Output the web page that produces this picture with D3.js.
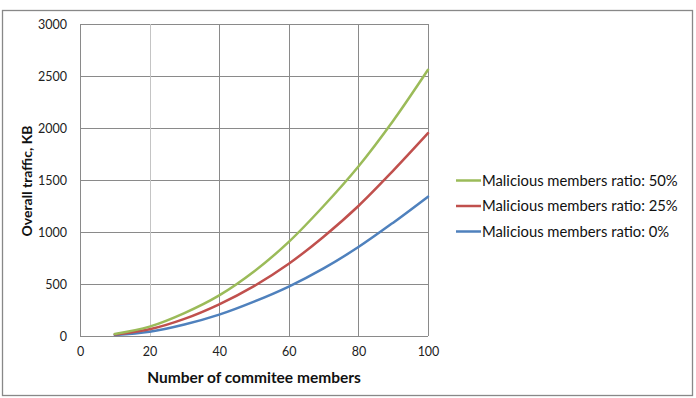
<!DOCTYPE html>
<html>
<head>
<meta charset="utf-8">
<script src="https://cdn.jsdelivr.net/npm/d3@7"></script>
<style>
  body { margin: 0; background: #fff; }
  svg { display: block; font-family: Lato, "Open Sans", sans-serif; }
</style>
</head>
<body>
<svg id="line_chart"></svg>
<script>
var members = [10, 20, 30, 40, 50, 60, 70, 80, 90, 100];
var ratio50 = [20, 90, 220, 390, 620, 905, 1250, 1630, 2070, 2560];
var ratio25 = [15, 65, 165, 305, 480, 695, 955, 1250, 1590, 1950];
var ratio0 = [10, 40, 110, 205, 330, 475, 650, 855, 1090, 1340];
var seriesNames = ["Malicious members ratio: 50%", "Malicious members ratio: 25%", "Malicious members ratio: 0%"];
var seriesColors = ["#9bbb59", "#c0504d", "#4f81bd"];
var xTicks = [0, 20, 40, 60, 80, 100];
var yTicks = [0, 500, 1000, 1500, 2000, 2500, 3000];

var width = 696;
var height = 398;

var xScale = d3.scaleLinear()
    .domain([0, 100])
    .range([80, 428]);
var yScale = d3.scaleLinear()
    .domain([0, 3000])
    .range([336, 24]);

var svg = d3.select("#line_chart")
    .attr('width', width)
    .attr('height', height);

// outer frame
svg.append('rect')
    .attr('x', 2.5).attr('y', 10.5)
    .attr('width', 690).attr('height', 385)
    .attr('fill', 'none')
    .attr('stroke', '#888')
    .attr('stroke-width', 1.3);

// grid
svg.append('g')
    .selectAll('line')
    .data(yTicks)
    .enter()
    .append('line')
    .attr('x1', xScale(0)).attr('x2', xScale(100))
    .attr('y1', function (d) { return Math.round(yScale(d)) + 0.5; })
    .attr('y2', function (d) { return Math.round(yScale(d)) + 0.5; })
    .attr('stroke', '#8a8a8a');
svg.append('g')
    .selectAll('line')
    .data(xTicks)
    .enter()
    .append('line')
    .attr('x1', function (d) { return Math.round(xScale(d)) + 0.5; })
    .attr('x2', function (d) { return Math.round(xScale(d)) + 0.5; })
    .attr('y1', yScale(3000)).attr('y2', yScale(0))
    .attr('stroke', function (d) { return d === 20 ? '#c4c4c4' : '#8a8a8a'; });

// axes (text only, lines drawn by grid)
var yAxis = d3.axisLeft(yScale).tickValues(yTicks).tickFormat(d3.format('d')).tickSize(0).tickPadding(13);
var gy = svg.append('g')
    .attr('transform', 'translate(' + xScale(0) + ',0)')
    .call(yAxis);
var xAxis = d3.axisBottom(xScale).tickValues(xTicks).tickFormat(d3.format('d')).tickSize(0).tickPadding(11);
var gx = svg.append('g')
    .attr('transform', 'translate(0,' + yScale(0) + ')')
    .call(xAxis);
[gx, gy].forEach(function (g) {
    g.select('.domain').remove();
    g.selectAll('text')
        .attr('font-family', 'Lato, sans-serif')
        .attr('font-size', 12.5)
        .attr('fill', '#222');
});

svg.append('text')
    .attr('transform', 'translate(32,181) rotate(-90)')
    .attr('text-anchor', 'middle')
    .attr('font-size', 14)
    .attr('font-weight', 'bold')
    .attr('fill', '#111')
    .text('Overall traffic, KB');

svg.append('text')
    .attr('x', 254).attr('y', 383)
    .attr('text-anchor', 'middle')
    .attr('font-size', 15.5)
    .attr('font-weight', 'bold')
    .attr('fill', '#111')
    .text('Number of commitee members');

var linePath = d3.line()
    .x(function (d) { return xScale(d[0]); })
    .y(function (d) { return yScale(d[1]); })
    .curve(d3.curveCatmullRom);

var allSeries = [ratio0, ratio25, ratio50];
var allColors = [seriesColors[2], seriesColors[1], seriesColors[0]];
allSeries.forEach(function (vals, i) {
    svg.append('path')
        .attr('d', linePath(members.map(function (m, j) { return [m, vals[j]]; })))
        .attr('fill', 'none')
        .attr('stroke', allColors[i])
        .attr('stroke-width', 2.5)
        .attr('stroke-linecap', 'round');
});

// legend
var legend = svg.append('g')
    .selectAll('g')
    .data(seriesNames)
    .enter()
    .append('g')
    .attr('transform', function (d, i) { return 'translate(456,' + (180.5 + i * 25.5) + ')'; });
legend.append('line')
    .attr('x1', 0).attr('x2', 25)
    .attr('stroke', function (d, i) { return seriesColors[i]; })
    .attr('stroke-width', 2.5);
legend.append('text')
    .attr('x', 26)
    .attr('dy', '0.35em')
    .attr('font-size', 14.8)
    .attr('fill', '#111')
    .text(function (d) { return d; });
</script>
</body>
</html>
